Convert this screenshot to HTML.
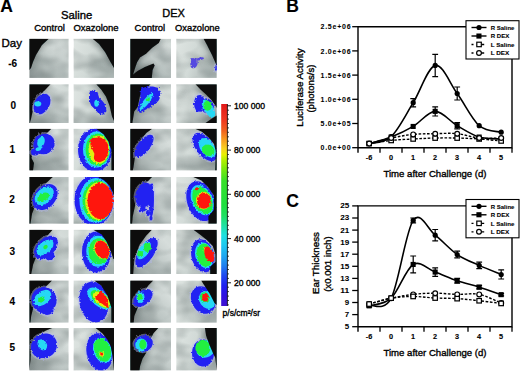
<!DOCTYPE html>
<html><head><meta charset="utf-8"><style>
html,body{margin:0;padding:0;background:#fff;}
svg{display:block;}
text{font-family:"Liberation Sans", sans-serif;fill:#000;stroke:#000;stroke-width:0.35px;}
text[font-weight="bold"]{stroke-width:0.12px;}
</style></head><body>
<svg width="520" height="371" viewBox="0 0 520 371">
<rect width="520" height="371" fill="#fff"/>
<text x="0.2" y="12.4" font-size="17.5" font-weight="bold">A</text>
<text x="61" y="18.5" font-size="11.3">Saline</text>
<text x="162.3" y="17.0" font-size="11.0">DEX</text>
<text x="34.2" y="31.3" font-size="9.5">Control</text>
<text x="73.4" y="31.2" font-size="9.5" textLength="45.2" lengthAdjust="spacingAndGlyphs">Oxazolone</text>
<text x="134.6" y="31.0" font-size="9.5">Control</text>
<text x="175.1" y="31.0" font-size="9.5" textLength="44.6" lengthAdjust="spacingAndGlyphs">Oxazolone</text>
<text x="1.5" y="46.8" font-size="11.5">Day</text>
<text x="12.6" y="66.9" text-anchor="middle" font-size="10" font-weight="bold">-6</text>
<text x="13.2" y="108.6" text-anchor="middle" font-size="10" font-weight="bold">0</text>
<text x="12.3" y="153.2" text-anchor="middle" font-size="10" font-weight="bold">1</text>
<text x="12.1" y="203.2" text-anchor="middle" font-size="10" font-weight="bold">2</text>
<text x="12.2" y="254.6" text-anchor="middle" font-size="10" font-weight="bold">3</text>
<text x="12.2" y="304.7" text-anchor="middle" font-size="10" font-weight="bold">4</text>
<text x="12.2" y="350.7" text-anchor="middle" font-size="10" font-weight="bold">5</text>
<defs>
<linearGradient id="grL" x1="0" y1="1" x2="1" y2="0"><stop offset="0" stop-color="#8e9897"/><stop offset="0.45" stop-color="#bec7c5"/><stop offset="0.8" stop-color="#d6dddb"/><stop offset="1" stop-color="#d0d8d5"/></linearGradient>
<linearGradient id="grR" x1="0" y1="0" x2="1" y2="0.3"><stop offset="0" stop-color="#dfe5e2"/><stop offset="0.5" stop-color="#d2dad7"/><stop offset="1" stop-color="#aeb8b6"/></linearGradient>
<linearGradient id="gr" x1="0" y1="0" x2="1" y2="1"><stop offset="0" stop-color="#bcc6c5"/><stop offset="0.5" stop-color="#d6dedb"/><stop offset="1" stop-color="#c4cecb"/></linearGradient>
<filter id="soft" x="-10%" y="-10%" width="120%" height="120%"><feGaussianBlur stdDeviation="0.6"/></filter>
<filter id="shade" x="-30%" y="-30%" width="160%" height="160%"><feGaussianBlur stdDeviation="3"/></filter>
<filter id="rag" x="-30%" y="-30%" width="160%" height="160%"><feTurbulence type="fractalNoise" baseFrequency="0.55" numOctaves="1" seed="7" result="n"/><feDisplacementMap in="SourceGraphic" in2="n" scale="3.2" xChannelSelector="R" yChannelSelector="G"/><feGaussianBlur stdDeviation="0.45"/></filter>
<filter id="tex" x="0" y="0" width="100%" height="100%"><feTurbulence type="fractalNoise" baseFrequency="0.045 0.07" numOctaves="2" seed="5"/><feColorMatrix type="matrix" values="0 0 0 0 0.1  0 0 0 0 0.13  0 0 0 0 0.13  1.6 0 0 0 -0.55"/></filter>
</defs>
<clipPath id="cp00"><rect x="29.3" y="38.8" width="39.4" height="39.1"/></clipPath>
<g clip-path="url(#cp00)">
<rect x="29.3" y="38.8" width="39.4" height="39.1" fill="url(#grL)"/>
<rect x="29.3" y="38.8" width="39.4" height="39.1" filter="url(#tex)" opacity="0.5"/>
<polygon points="29.3,38.8 48.8,38.8 42.0,45.0 36.0,55.0 33.0,62.0 31.0,68.0 29.3,70.0" fill="#1a2222" opacity="0.45" filter="url(#shade)"/>
<polygon points="29.3,38.8 48.8,38.8 42.0,45.0 36.0,55.0 33.0,62.0 31.0,68.0 29.3,70.0" fill="#080c0d" filter="url(#soft)"/>
</g>
<clipPath id="cp01"><rect x="73.5" y="38.8" width="40.5" height="39.1"/></clipPath>
<g clip-path="url(#cp01)">
<rect x="73.5" y="38.8" width="40.5" height="39.1" fill="url(#grR)"/>
<rect x="73.5" y="38.8" width="40.5" height="39.1" filter="url(#tex)" opacity="0.5"/>
<polygon points="92.6,38.8 114.0,38.8 114.0,67.9 110.5,62.0 105.0,52.0 99.0,44.0" fill="#1a2222" opacity="0.45" filter="url(#shade)"/>
<polygon points="92.6,38.8 114.0,38.8 114.0,67.9 110.5,62.0 105.0,52.0 99.0,44.0" fill="#080c0d" filter="url(#soft)"/>
</g>
<clipPath id="cp02"><rect x="130.2" y="38.8" width="40.8" height="39.1"/></clipPath>
<g clip-path="url(#cp02)">
<rect x="130.2" y="38.8" width="40.8" height="39.1" fill="url(#grL)"/>
<rect x="130.2" y="38.8" width="40.8" height="39.1" filter="url(#tex)" opacity="0.5"/>
<polygon points="130.2,38.8 160.8,38.8 158.8,43.1 152.2,47.8 146.1,53.7 140.0,57.6 137.1,62.3 135.1,68.1 133.1,74.4 137.5,70.9 144.9,67.0 153.5,63.4 154.7,65.4 152.6,70.1 151.8,77.9 130.2,77.9" fill="#1a2222" opacity="0.45" filter="url(#shade)"/>
<polygon points="130.2,38.8 160.8,38.8 158.8,43.1 152.2,47.8 146.1,53.7 140.0,57.6 137.1,62.3 135.1,68.1 133.1,74.4 137.5,70.9 144.9,67.0 153.5,63.4 154.7,65.4 152.6,70.1 151.8,77.9 130.2,77.9" fill="#080c0d" filter="url(#soft)"/>
</g>
<clipPath id="cp03"><rect x="176.2" y="38.8" width="40.6" height="39.1"/></clipPath>
<g clip-path="url(#cp03)">
<rect x="176.2" y="38.8" width="40.6" height="39.1" fill="url(#grR)"/>
<rect x="176.2" y="38.8" width="40.6" height="39.1" filter="url(#tex)" opacity="0.5"/>
<polygon points="203.6,38.8 216.8,38.8 216.8,66.0 212.0,55.0 207.0,45.0" fill="#1a2222" opacity="0.45" filter="url(#shade)"/>
<g filter="url(#rag)"><ellipse cx="216.5" cy="68.0" rx="2.8" ry="5.1" transform="rotate(0 216.5 68.0)" fill="#b4b8f2" opacity="0.45"/><ellipse cx="194.0" cy="63.5" rx="3.5" ry="5.0" transform="rotate(20 194.0 63.5)" fill="#5548e0"/><ellipse cx="199.5" cy="58.8" rx="4.5" ry="1.4" transform="rotate(-10 199.5 58.8)" fill="#5548e0"/><ellipse cx="193.0" cy="60.0" rx="2.0" ry="2.0" transform="rotate(0 193.0 60.0)" fill="#5548e0"/><ellipse cx="216.5" cy="68.0" rx="1.2" ry="3.5" transform="rotate(0 216.5 68.0)" fill="#2424f2"/></g>
<polygon points="203.6,38.8 216.8,38.8 216.8,66.0 212.0,55.0 207.0,45.0" fill="#080c0d" filter="url(#soft)"/>
</g>
<clipPath id="cp10"><rect x="29.3" y="84.2" width="39.4" height="38.8"/></clipPath>
<g clip-path="url(#cp10)">
<rect x="29.3" y="84.2" width="39.4" height="38.8" fill="url(#grL)"/>
<rect x="29.3" y="84.2" width="39.4" height="38.8" filter="url(#tex)" opacity="0.5"/>
<polygon points="29.3,84.2 50.5,84.2 45.0,90.0 38.0,97.0 33.0,105.0 32.5,112.0 31.0,119.0 29.8,123.0 29.3,123.0" fill="#1a2222" opacity="0.45" filter="url(#shade)"/>
<polygon points="29.3,84.2 50.5,84.2 45.0,90.0 38.0,97.0 33.0,105.0 32.5,112.0 31.0,119.0 29.8,123.0 29.3,123.0" fill="#080c0d" filter="url(#soft)"/>
<g filter="url(#rag)"><ellipse cx="42.0" cy="104.0" rx="9.1" ry="12.6" transform="rotate(30 42.0 104.0)" fill="#b4b8f2" opacity="0.45"/><ellipse cx="42.0" cy="104.0" rx="7.5" ry="11.0" transform="rotate(30 42.0 104.0)" fill="#2424f2"/><ellipse cx="37.8" cy="103.8" rx="3.5" ry="2.6" transform="rotate(0 37.8 103.8)" fill="#28d8f4"/></g>
</g>
<clipPath id="cp11"><rect x="73.5" y="84.2" width="40.5" height="38.8"/></clipPath>
<g clip-path="url(#cp11)">
<rect x="73.5" y="84.2" width="40.5" height="38.8" fill="url(#grR)"/>
<rect x="73.5" y="84.2" width="40.5" height="38.8" filter="url(#tex)" opacity="0.5"/>
<polygon points="96.3,84.2 114.0,84.2 114.0,121.0 112.0,116.6 109.5,105.5 105.9,96.6 101.5,90.0" fill="#1a2222" opacity="0.45" filter="url(#shade)"/>
<g filter="url(#rag)"><polygon points="90.1,90.9 94.1,89.8 97.5,92.0 99.1,97.7 102.5,101.1 105.9,105.6 106.5,111.3 103.1,114.7 98.6,113.5 94.6,109.0 91.2,105.6 89.0,99.9 89.0,94.3" fill="#2424f2"/><ellipse cx="96.5" cy="103.2" rx="2.2" ry="3.5" transform="rotate(0 96.5 103.2)" fill="#28d8f4"/></g>
<polygon points="96.3,84.2 114.0,84.2 114.0,121.0 112.0,116.6 109.5,105.5 105.9,96.6 101.5,90.0" fill="#080c0d" filter="url(#soft)"/>
</g>
<clipPath id="cp12"><rect x="130.2" y="84.2" width="40.8" height="38.8"/></clipPath>
<g clip-path="url(#cp12)">
<rect x="130.2" y="84.2" width="40.8" height="38.8" fill="url(#grL)"/>
<rect x="130.2" y="84.2" width="40.8" height="38.8" filter="url(#tex)" opacity="0.5"/>
<polygon points="130.2,84.2 150.6,84.2 145.0,90.0 140.0,96.0 137.7,107.0 134.2,111.6 132.7,121.0 132.4,123.0 130.2,123.0" fill="#1a2222" opacity="0.45" filter="url(#shade)"/>
<polygon points="130.2,84.2 150.6,84.2 145.0,90.0 140.0,96.0 137.7,107.0 134.2,111.6 132.7,121.0 132.4,123.0 130.2,123.0" fill="#080c0d" filter="url(#soft)"/>
<g filter="url(#rag)"><polygon points="141.0,88.5 147.0,86.5 153.0,86.5 158.5,88.0 160.5,94.0 159.0,100.0 155.0,104.5 150.0,107.5 145.0,110.0 141.0,113.0 137.5,111.5 138.0,106.0 140.0,99.0 140.5,93.0" fill="#2424f2"/><ellipse cx="146.4" cy="101.5" rx="10.5" ry="2.8" transform="rotate(-52 146.4 101.5)" fill="#28d8f4"/><ellipse cx="147.8" cy="99.4" rx="2.0" ry="2.0" transform="rotate(0 147.8 99.4)" fill="#20f040"/></g>
</g>
<clipPath id="cp13"><rect x="176.2" y="84.2" width="40.6" height="38.8"/></clipPath>
<g clip-path="url(#cp13)">
<rect x="176.2" y="84.2" width="40.6" height="38.8" fill="url(#grR)"/>
<rect x="176.2" y="84.2" width="40.6" height="38.8" filter="url(#tex)" opacity="0.5"/>
<polygon points="195.5,84.2 216.8,84.2 216.8,108.0 215.0,105.0 211.0,99.5 206.0,94.5 200.5,89.5" fill="#1a2222" opacity="0.45" filter="url(#shade)"/>
<polygon points="205.5,123.0 216.8,123.0 216.8,115.5 212.0,118.5" fill="#1a2222" opacity="0.45" filter="url(#shade)"/>
<g filter="url(#rag)"><ellipse cx="199.5" cy="103.4" rx="7.1" ry="10.1" transform="rotate(0 199.5 103.4)" fill="#b4b8f2" opacity="0.45"/><ellipse cx="207.0" cy="106.0" rx="9.6" ry="8.1" transform="rotate(60 207.0 106.0)" fill="#b4b8f2" opacity="0.45"/><ellipse cx="199.5" cy="103.4" rx="5.5" ry="8.5" transform="rotate(0 199.5 103.4)" fill="#2424f2"/><ellipse cx="207.0" cy="106.0" rx="8.0" ry="6.5" transform="rotate(60 207.0 106.0)" fill="#2424f2"/><ellipse cx="208.5" cy="108.5" rx="10.0" ry="4.8" transform="rotate(58 208.5 108.5)" fill="#28d8f4"/><ellipse cx="207.6" cy="105.8" rx="4.2" ry="5.0" transform="rotate(0 207.6 105.8)" fill="#20f040"/></g>
<polygon points="195.5,84.2 216.8,84.2 216.8,108.0 215.0,105.0 211.0,99.5 206.0,94.5 200.5,89.5" fill="#080c0d" filter="url(#soft)"/>
<polygon points="205.5,123.0 216.8,123.0 216.8,115.5 212.0,118.5" fill="#080c0d" filter="url(#soft)"/>
</g>
<clipPath id="cp20"><rect x="29.3" y="128.8" width="39.4" height="41.8"/></clipPath>
<g clip-path="url(#cp20)">
<rect x="29.3" y="128.8" width="39.4" height="41.8" fill="url(#grL)"/>
<rect x="29.3" y="128.8" width="39.4" height="41.8" filter="url(#tex)" opacity="0.5"/>
<polygon points="29.3,128.8 51.3,128.8 45.0,135.0 38.0,142.0 33.0,151.0 31.5,158.0 34.0,163.0 33.0,170.6 29.3,170.6" fill="#1a2222" opacity="0.45" filter="url(#shade)"/>
<polygon points="29.3,128.8 51.3,128.8 45.0,135.0 38.0,142.0 33.0,151.0 31.5,158.0 34.0,163.0 33.0,170.6 29.3,170.6" fill="#080c0d" filter="url(#soft)"/>
<g filter="url(#rag)"><ellipse cx="44.0" cy="144.0" rx="12.6" ry="11.6" transform="rotate(-30 44.0 144.0)" fill="#b4b8f2" opacity="0.45"/><ellipse cx="35.0" cy="152.0" rx="5.6" ry="5.1" transform="rotate(0 35.0 152.0)" fill="#b4b8f2" opacity="0.45"/><ellipse cx="44.0" cy="144.0" rx="11.0" ry="10.0" transform="rotate(-30 44.0 144.0)" fill="#2424f2"/><ellipse cx="35.0" cy="152.0" rx="4.0" ry="3.5" transform="rotate(0 35.0 152.0)" fill="#2424f2"/><ellipse cx="41.0" cy="142.0" rx="3.5" ry="5.5" transform="rotate(20 41.0 142.0)" fill="#28d8f4"/><ellipse cx="38.5" cy="149.0" rx="3.0" ry="1.8" transform="rotate(-20 38.5 149.0)" fill="#28d8f4"/></g>
</g>
<clipPath id="cp21"><rect x="73.5" y="128.8" width="40.5" height="41.8"/></clipPath>
<g clip-path="url(#cp21)">
<rect x="73.5" y="128.8" width="40.5" height="41.8" fill="url(#grR)"/>
<rect x="73.5" y="128.8" width="40.5" height="41.8" filter="url(#tex)" opacity="0.5"/>
<polygon points="96.2,128.8 114.0,128.8 114.0,170.6 111.4,170.6 111.4,150.0 108.4,141.4 103.5,134.3" fill="#1a2222" opacity="0.45" filter="url(#shade)"/>
<g filter="url(#rag)"><ellipse cx="95.0" cy="150.0" rx="18.6" ry="23.1" transform="rotate(0 95.0 150.0)" fill="#b4b8f2" opacity="0.45"/><ellipse cx="95.0" cy="150.0" rx="17.0" ry="21.5" transform="rotate(0 95.0 150.0)" fill="#2424f2"/><ellipse cx="96.6" cy="149.5" rx="13.6" ry="18.0" transform="rotate(0 96.6 149.5)" fill="#28d8f4"/><ellipse cx="97.6" cy="149.6" rx="12.0" ry="16.0" transform="rotate(0 97.6 149.6)" fill="#20f040"/><ellipse cx="98.8" cy="149.6" rx="10.3" ry="14.2" transform="rotate(0 98.8 149.6)" fill="#e0f010"/><polygon points="90.2,139.7 93.2,137.9 99.9,137.3 104.7,139.1 107.8,144.0 108.4,151.2 107.2,156.1 104.1,160.3 99.9,162.2 95.6,161.5 93.8,158.5 94.4,153.7 92.6,150.0 90.8,146.4 90.2,142.8" fill="#ff1810"/></g>
<polygon points="96.2,128.8 114.0,128.8 114.0,170.6 111.4,170.6 111.4,150.0 108.4,141.4 103.5,134.3" fill="#080c0d" filter="url(#soft)"/>
</g>
<clipPath id="cp22"><rect x="130.2" y="128.8" width="40.8" height="41.8"/></clipPath>
<g clip-path="url(#cp22)">
<rect x="130.2" y="128.8" width="40.8" height="41.8" fill="url(#grL)"/>
<rect x="130.2" y="128.8" width="40.8" height="41.8" filter="url(#tex)" opacity="0.5"/>
<polygon points="130.2,128.8 152.2,128.8 146.2,133.1 140.1,141.6 136.5,151.2 134.7,158.5 133.5,167.0 132.8,170.6 130.2,170.6" fill="#1a2222" opacity="0.45" filter="url(#shade)"/>
<polygon points="130.2,128.8 152.2,128.8 146.2,133.1 140.1,141.6 136.5,151.2 134.7,158.5 133.5,167.0 132.8,170.6 130.2,170.6" fill="#080c0d" filter="url(#soft)"/>
<g filter="url(#rag)"><ellipse cx="144.0" cy="146.0" rx="15.1" ry="7.6" transform="rotate(-52 144.0 146.0)" fill="#b4b8f2" opacity="0.45"/><ellipse cx="144.0" cy="146.0" rx="13.5" ry="6.0" transform="rotate(-52 144.0 146.0)" fill="#2424f2"/></g>
</g>
<clipPath id="cp23"><rect x="176.2" y="128.8" width="40.6" height="41.8"/></clipPath>
<g clip-path="url(#cp23)">
<rect x="176.2" y="128.8" width="40.6" height="41.8" fill="url(#grR)"/>
<rect x="176.2" y="128.8" width="40.6" height="41.8" filter="url(#tex)" opacity="0.5"/>
<polygon points="195.2,128.8 216.8,128.8 216.8,170.6 215.2,170.6 215.8,151.2 214.0,144.0 209.2,137.9 201.9,131.8" fill="#1a2222" opacity="0.45" filter="url(#shade)"/>
<g filter="url(#rag)"><ellipse cx="204.9" cy="147.0" rx="18.1" ry="10.6" transform="rotate(52 204.9 147.0)" fill="#b4b8f2" opacity="0.45"/><ellipse cx="204.9" cy="147.0" rx="16.5" ry="9.0" transform="rotate(52 204.9 147.0)" fill="#2424f2"/><ellipse cx="207.5" cy="147.6" rx="11.0" ry="7.0" transform="rotate(52 207.5 147.6)" fill="#28d8f4"/><ellipse cx="208.2" cy="150.3" rx="6.5" ry="5.5" transform="rotate(30 208.2 150.3)" fill="#20f040"/></g>
<polygon points="195.2,128.8 216.8,128.8 216.8,170.6 215.2,170.6 215.8,151.2 214.0,144.0 209.2,137.9 201.9,131.8" fill="#080c0d" filter="url(#soft)"/>
</g>
<clipPath id="cp30"><rect x="29.3" y="177.0" width="39.4" height="46.8"/></clipPath>
<g clip-path="url(#cp30)">
<rect x="29.3" y="177.0" width="39.4" height="46.8" fill="url(#grL)"/>
<rect x="29.3" y="177.0" width="39.4" height="46.8" filter="url(#tex)" opacity="0.5"/>
<polygon points="29.3,177.0 52.8,177.0 47.3,181.9 40.0,190.0 36.0,200.0 34.9,206.6 32.1,213.5 30.8,221.8 30.5,223.8 29.3,223.8" fill="#1a2222" opacity="0.45" filter="url(#shade)"/>
<polygon points="29.3,177.0 52.8,177.0 47.3,181.9 40.0,190.0 36.0,200.0 34.9,206.6 32.1,213.5 30.8,221.8 30.5,223.8 29.3,223.8" fill="#080c0d" filter="url(#soft)"/>
<g filter="url(#rag)"><ellipse cx="45.2" cy="197.0" rx="16.2" ry="12.1" transform="rotate(-49 45.2 197.0)" fill="#b4b8f2" opacity="0.45"/><ellipse cx="45.2" cy="197.0" rx="14.6" ry="10.5" transform="rotate(-49 45.2 197.0)" fill="#2424f2"/><ellipse cx="44.3" cy="195.8" rx="11.0" ry="7.5" transform="rotate(-42 44.3 195.8)" fill="#28d8f4"/><ellipse cx="43.3" cy="197.2" rx="6.5" ry="4.0" transform="rotate(-30 43.3 197.2)" fill="#20f040"/></g>
</g>
<clipPath id="cp31"><rect x="73.5" y="177.0" width="40.5" height="46.8"/></clipPath>
<g clip-path="url(#cp31)">
<rect x="73.5" y="177.0" width="40.5" height="46.8" fill="url(#grR)"/>
<rect x="73.5" y="177.0" width="40.5" height="46.8" filter="url(#tex)" opacity="0.5"/>
<polygon points="98.0,177.0 114.0,177.0 114.0,196.0 112.6,192.0 109.5,185.5 104.0,180.0" fill="#1a2222" opacity="0.45" filter="url(#shade)"/>
<g filter="url(#rag)"><ellipse cx="94.0" cy="200.4" rx="21.1" ry="26.6" transform="rotate(0 94.0 200.4)" fill="#b4b8f2" opacity="0.45"/><ellipse cx="94.0" cy="200.4" rx="19.5" ry="25.0" transform="rotate(0 94.0 200.4)" fill="#2424f2"/><ellipse cx="96.0" cy="200.5" rx="16.5" ry="22.5" transform="rotate(0 96.0 200.5)" fill="#28d8f4"/><ellipse cx="97.5" cy="200.8" rx="15.0" ry="20.5" transform="rotate(0 97.5 200.8)" fill="#20f040"/><ellipse cx="99.0" cy="201.0" rx="13.8" ry="19.0" transform="rotate(0 99.0 201.0)" fill="#e0f010"/><ellipse cx="100.3" cy="201.0" rx="12.8" ry="18.0" transform="rotate(0 100.3 201.0)" fill="#ff1810"/></g>
<polygon points="98.0,177.0 114.0,177.0 114.0,196.0 112.6,192.0 109.5,185.5 104.0,180.0" fill="#080c0d" filter="url(#soft)"/>
</g>
<clipPath id="cp32"><rect x="130.2" y="177.0" width="40.8" height="46.8"/></clipPath>
<g clip-path="url(#cp32)">
<rect x="130.2" y="177.0" width="40.8" height="46.8" fill="url(#grL)"/>
<rect x="130.2" y="177.0" width="40.8" height="46.8" filter="url(#tex)" opacity="0.5"/>
<polygon points="130.2,177.0 152.1,177.0 144.5,184.6 137.6,195.6 134.9,206.6 132.8,216.3 132.1,223.8 130.2,223.8" fill="#1a2222" opacity="0.45" filter="url(#shade)"/>
<polygon points="130.2,177.0 152.1,177.0 144.5,184.6 137.6,195.6 134.9,206.6 132.8,216.3 132.1,223.8 130.2,223.8" fill="#080c0d" filter="url(#soft)"/>
<g filter="url(#rag)"><ellipse cx="144.5" cy="195.0" rx="10.6" ry="14.1" transform="rotate(15 144.5 195.0)" fill="#b4b8f2" opacity="0.45"/><ellipse cx="151.3" cy="200.0" rx="4.3" ry="18.1" transform="rotate(0 151.3 200.0)" fill="#b4b8f2" opacity="0.45"/><ellipse cx="143.0" cy="209.0" rx="4.6" ry="4.1" transform="rotate(0 143.0 209.0)" fill="#b4b8f2" opacity="0.45"/><ellipse cx="148.0" cy="213.0" rx="3.6" ry="4.6" transform="rotate(0 148.0 213.0)" fill="#b4b8f2" opacity="0.45"/><ellipse cx="151.0" cy="218.0" rx="3.1" ry="4.1" transform="rotate(0 151.0 218.0)" fill="#b4b8f2" opacity="0.45"/><ellipse cx="140.0" cy="211.0" rx="2.8" ry="2.8" transform="rotate(0 140.0 211.0)" fill="#b4b8f2" opacity="0.45"/><ellipse cx="144.5" cy="195.0" rx="9.0" ry="12.5" transform="rotate(15 144.5 195.0)" fill="#2424f2"/><ellipse cx="151.3" cy="200.0" rx="2.7" ry="16.5" transform="rotate(0 151.3 200.0)" fill="#2424f2"/><ellipse cx="143.0" cy="209.0" rx="3.0" ry="2.5" transform="rotate(0 143.0 209.0)" fill="#2424f2"/><ellipse cx="148.0" cy="213.0" rx="2.0" ry="3.0" transform="rotate(0 148.0 213.0)" fill="#2424f2"/><ellipse cx="151.0" cy="218.0" rx="1.5" ry="2.5" transform="rotate(0 151.0 218.0)" fill="#2424f2"/><ellipse cx="140.0" cy="211.0" rx="1.2" ry="1.2" transform="rotate(0 140.0 211.0)" fill="#2424f2"/></g>
</g>
<clipPath id="cp33"><rect x="176.2" y="177.0" width="40.6" height="46.8"/></clipPath>
<g clip-path="url(#cp33)">
<rect x="176.2" y="177.0" width="40.6" height="46.8" fill="url(#grR)"/>
<rect x="176.2" y="177.0" width="40.6" height="46.8" filter="url(#tex)" opacity="0.5"/>
<polygon points="193.3,177.0 216.8,177.0 216.8,223.8 208.4,223.8 208.4,216.3 213.9,210.0 213.9,195.6 208.4,187.4 201.5,180.5" fill="#1a2222" opacity="0.45" filter="url(#shade)"/>
<g filter="url(#rag)"><ellipse cx="200.9" cy="201.2" rx="15.3" ry="22.2" transform="rotate(-20 200.9 201.2)" fill="#b4b8f2" opacity="0.45"/><ellipse cx="200.9" cy="201.2" rx="13.7" ry="20.6" transform="rotate(-20 200.9 201.2)" fill="#2424f2"/><ellipse cx="202.2" cy="200.1" rx="10.3" ry="16.0" transform="rotate(-25 202.2 200.1)" fill="#28d8f4"/><ellipse cx="202.5" cy="200.3" rx="9.2" ry="14.2" transform="rotate(-25 202.5 200.3)" fill="#20f040"/><ellipse cx="203.5" cy="200.5" rx="7.5" ry="9.0" transform="rotate(0 203.5 200.5)" fill="#e0f010"/><ellipse cx="203.9" cy="200.8" rx="7.0" ry="8.0" transform="rotate(0 203.9 200.8)" fill="#ff1810"/><ellipse cx="196.7" cy="188.8" rx="1.5" ry="1.5" transform="rotate(0 196.7 188.8)" fill="#ff1810"/></g>
<polygon points="193.3,177.0 216.8,177.0 216.8,223.8 208.4,223.8 208.4,216.3 213.9,210.0 213.9,195.6 208.4,187.4 201.5,180.5" fill="#080c0d" filter="url(#soft)"/>
</g>
<clipPath id="cp40"><rect x="29.3" y="229.8" width="39.4" height="44.2"/></clipPath>
<g clip-path="url(#cp40)">
<rect x="29.3" y="229.8" width="39.4" height="44.2" fill="url(#grL)"/>
<rect x="29.3" y="229.8" width="39.4" height="44.2" filter="url(#tex)" opacity="0.5"/>
<polygon points="29.3,229.8 52.6,229.8 47.4,235.8 40.0,246.0 35.8,257.8 33.2,264.2 31.2,273.9 29.3,274.0" fill="#1a2222" opacity="0.45" filter="url(#shade)"/>
<polygon points="29.3,229.8 52.6,229.8 47.4,235.8 40.0,246.0 35.8,257.8 33.2,264.2 31.2,273.9 29.3,274.0" fill="#080c0d" filter="url(#soft)"/>
<g filter="url(#rag)"><ellipse cx="46.0" cy="247.5" rx="15.6" ry="10.4" transform="rotate(-45 46.0 247.5)" fill="#b4b8f2" opacity="0.45"/><ellipse cx="49.5" cy="255.5" rx="6.6" ry="6.6" transform="rotate(0 49.5 255.5)" fill="#b4b8f2" opacity="0.45"/><ellipse cx="46.0" cy="247.5" rx="14.0" ry="8.8" transform="rotate(-45 46.0 247.5)" fill="#2424f2"/><ellipse cx="49.5" cy="255.5" rx="5.0" ry="5.0" transform="rotate(0 49.5 255.5)" fill="#2424f2"/><ellipse cx="45.0" cy="247.5" rx="10.0" ry="6.0" transform="rotate(-40 45.0 247.5)" fill="#28d8f4"/><ellipse cx="45.5" cy="247.0" rx="2.5" ry="1.8" transform="rotate(-40 45.5 247.0)" fill="#20f040"/></g>
</g>
<clipPath id="cp41"><rect x="73.5" y="229.8" width="40.5" height="44.2"/></clipPath>
<g clip-path="url(#cp41)">
<rect x="73.5" y="229.8" width="40.5" height="44.2" fill="url(#grR)"/>
<rect x="73.5" y="229.8" width="40.5" height="44.2" filter="url(#tex)" opacity="0.5"/>
<polygon points="93.3,229.8 114.0,229.8 114.0,259.0 113.4,259.0 110.8,251.3 106.9,242.2 101.8,234.5" fill="#1a2222" opacity="0.45" filter="url(#shade)"/>
<g filter="url(#rag)"><ellipse cx="96.5" cy="252.0" rx="16.1" ry="22.3" transform="rotate(0 96.5 252.0)" fill="#b4b8f2" opacity="0.45"/><ellipse cx="96.5" cy="252.0" rx="14.5" ry="20.7" transform="rotate(0 96.5 252.0)" fill="#2424f2"/><ellipse cx="97.9" cy="251.3" rx="11.6" ry="15.5" transform="rotate(0 97.9 251.3)" fill="#28d8f4"/><ellipse cx="99.0" cy="251.2" rx="10.4" ry="13.0" transform="rotate(0 99.0 251.2)" fill="#20f040"/><ellipse cx="102.0" cy="249.6" rx="7.5" ry="10.0" transform="rotate(-25 102.0 249.6)" fill="#e0f010"/><ellipse cx="102.1" cy="249.7" rx="6.8" ry="9.5" transform="rotate(-25 102.1 249.7)" fill="#ff1810"/></g>
<polygon points="93.3,229.8 114.0,229.8 114.0,259.0 113.4,259.0 110.8,251.3 106.9,242.2 101.8,234.5" fill="#080c0d" filter="url(#soft)"/>
</g>
<clipPath id="cp42"><rect x="130.2" y="229.8" width="40.8" height="44.2"/></clipPath>
<g clip-path="url(#cp42)">
<rect x="130.2" y="229.8" width="40.8" height="44.2" fill="url(#grL)"/>
<rect x="130.2" y="229.8" width="40.8" height="44.2" filter="url(#tex)" opacity="0.5"/>
<polygon points="130.2,229.8 151.9,229.8 146.1,235.8 139.6,244.8 135.8,255.2 133.8,265.5 133.2,273.9 130.2,274.0" fill="#1a2222" opacity="0.45" filter="url(#shade)"/>
<polygon points="130.2,229.8 151.9,229.8 146.1,235.8 139.6,244.8 135.8,255.2 133.8,265.5 133.2,273.9 130.2,274.0" fill="#080c0d" filter="url(#soft)"/>
<g filter="url(#rag)"><ellipse cx="146.5" cy="252.5" rx="18.6" ry="9.1" transform="rotate(-57 146.5 252.5)" fill="#b4b8f2" opacity="0.45"/><ellipse cx="146.5" cy="252.5" rx="17.0" ry="7.5" transform="rotate(-57 146.5 252.5)" fill="#2424f2"/><ellipse cx="144.0" cy="250.5" rx="10.0" ry="5.0" transform="rotate(-57 144.0 250.5)" fill="#28d8f4"/><ellipse cx="147.4" cy="247.4" rx="3.5" ry="4.5" transform="rotate(0 147.4 247.4)" fill="#20f040"/><ellipse cx="140.3" cy="253.9" rx="3.0" ry="3.0" transform="rotate(0 140.3 253.9)" fill="#20f040"/></g>
</g>
<clipPath id="cp43"><rect x="176.2" y="229.8" width="40.6" height="44.2"/></clipPath>
<g clip-path="url(#cp43)">
<rect x="176.2" y="229.8" width="40.6" height="44.2" fill="url(#grR)"/>
<rect x="176.2" y="229.8" width="40.6" height="44.2" filter="url(#tex)" opacity="0.5"/>
<polygon points="193.4,229.8 216.8,229.8 216.8,274.0 210.2,274.0 210.2,266.8 215.4,262.0 215.4,253.9 212.8,246.1 206.3,239.6 199.9,234.5" fill="#1a2222" opacity="0.45" filter="url(#shade)"/>
<g filter="url(#rag)"><ellipse cx="202.8" cy="255.8" rx="12.9" ry="18.4" transform="rotate(-15 202.8 255.8)" fill="#b4b8f2" opacity="0.45"/><ellipse cx="202.8" cy="255.8" rx="11.3" ry="16.8" transform="rotate(-15 202.8 255.8)" fill="#2424f2"/><ellipse cx="204.4" cy="255.2" rx="9.1" ry="13.0" transform="rotate(-15 204.4 255.2)" fill="#28d8f4"/><ellipse cx="204.7" cy="255.2" rx="8.0" ry="11.7" transform="rotate(-10 204.7 255.2)" fill="#20f040"/><ellipse cx="205.5" cy="250.0" rx="1.8" ry="3.0" transform="rotate(0 205.5 250.0)" fill="#e0f010"/><ellipse cx="209.2" cy="254.5" rx="4.3" ry="8.4" transform="rotate(-20 209.2 254.5)" fill="#ff1810"/></g>
<polygon points="193.4,229.8 216.8,229.8 216.8,274.0 210.2,274.0 210.2,266.8 215.4,262.0 215.4,253.9 212.8,246.1 206.3,239.6 199.9,234.5" fill="#080c0d" filter="url(#soft)"/>
</g>
<clipPath id="cp50"><rect x="29.3" y="280.4" width="39.4" height="42.4"/></clipPath>
<g clip-path="url(#cp50)">
<rect x="29.3" y="280.4" width="39.4" height="42.4" fill="url(#grL)"/>
<rect x="29.3" y="280.4" width="39.4" height="42.4" filter="url(#tex)" opacity="0.5"/>
<polygon points="29.3,280.4 52.1,280.4 47.0,285.6 40.0,293.0 33.1,308.4 31.2,316.0 30.5,322.4 29.3,322.8" fill="#1a2222" opacity="0.45" filter="url(#shade)"/>
<polygon points="29.3,280.4 52.1,280.4 47.0,285.6 40.0,293.0 33.1,308.4 31.2,316.0 30.5,322.4 29.3,322.8" fill="#080c0d" filter="url(#soft)"/>
<g filter="url(#rag)"><ellipse cx="44.0" cy="300.0" rx="14.1" ry="14.6" transform="rotate(-30 44.0 300.0)" fill="#b4b8f2" opacity="0.45"/><ellipse cx="47.0" cy="310.0" rx="8.1" ry="6.6" transform="rotate(0 47.0 310.0)" fill="#b4b8f2" opacity="0.45"/><ellipse cx="44.0" cy="300.0" rx="12.5" ry="13.0" transform="rotate(-30 44.0 300.0)" fill="#2424f2"/><ellipse cx="47.0" cy="310.0" rx="6.5" ry="5.0" transform="rotate(0 47.0 310.0)" fill="#2424f2"/><ellipse cx="42.5" cy="298.0" rx="10.0" ry="6.5" transform="rotate(-40 42.5 298.0)" fill="#28d8f4"/><ellipse cx="41.5" cy="299.5" rx="3.5" ry="2.5" transform="rotate(-30 41.5 299.5)" fill="#20f040"/></g>
</g>
<clipPath id="cp51"><rect x="73.5" y="280.4" width="40.5" height="42.4"/></clipPath>
<g clip-path="url(#cp51)">
<rect x="73.5" y="280.4" width="40.5" height="42.4" fill="url(#grR)"/>
<rect x="73.5" y="280.4" width="40.5" height="42.4" filter="url(#tex)" opacity="0.5"/>
<polygon points="94.2,280.4 114.0,280.4 114.0,322.8 111.3,322.8 111.3,307.2 107.5,295.7 101.2,285.6" fill="#1a2222" opacity="0.45" filter="url(#shade)"/>
<g filter="url(#rag)"><ellipse cx="94.0" cy="302.0" rx="16.1" ry="22.2" transform="rotate(-10 94.0 302.0)" fill="#b4b8f2" opacity="0.45"/><ellipse cx="94.0" cy="302.0" rx="14.5" ry="20.6" transform="rotate(-10 94.0 302.0)" fill="#2424f2"/><ellipse cx="99.5" cy="298.5" rx="14.5" ry="7.5" transform="rotate(40 99.5 298.5)" fill="#28d8f4"/><ellipse cx="100.8" cy="299.0" rx="12.0" ry="6.3" transform="rotate(40 100.8 299.0)" fill="#20f040"/><ellipse cx="101.5" cy="299.5" rx="10.3" ry="5.6" transform="rotate(42 101.5 299.5)" fill="#e0f010"/><polygon points="100.5,290.4 94.8,298.5 101.0,303.0 108.8,308.8 107.0,298.0" fill="#ff1810"/></g>
<polygon points="94.2,280.4 114.0,280.4 114.0,322.8 111.3,322.8 111.3,307.2 107.5,295.7 101.2,285.6" fill="#080c0d" filter="url(#soft)"/>
</g>
<clipPath id="cp52"><rect x="130.2" y="280.4" width="40.8" height="42.4"/></clipPath>
<g clip-path="url(#cp52)">
<rect x="130.2" y="280.4" width="40.8" height="42.4" fill="url(#grL)"/>
<rect x="130.2" y="280.4" width="40.8" height="42.4" filter="url(#tex)" opacity="0.5"/>
<polygon points="130.2,280.4 153.3,280.4 148.3,285.6 142.0,295.0 136.9,309.7 134.3,316.0 133.7,322.4 130.2,322.8" fill="#1a2222" opacity="0.45" filter="url(#shade)"/>
<polygon points="130.2,280.4 153.3,280.4 148.3,285.6 142.0,295.0 136.9,309.7 134.3,316.0 133.7,322.4 130.2,322.8" fill="#080c0d" filter="url(#soft)"/>
<g filter="url(#rag)"><ellipse cx="143.0" cy="298.0" rx="12.6" ry="8.6" transform="rotate(-40 143.0 298.0)" fill="#b4b8f2" opacity="0.45"/><ellipse cx="143.0" cy="298.0" rx="11.0" ry="7.0" transform="rotate(-40 143.0 298.0)" fill="#2424f2"/><ellipse cx="140.5" cy="297.5" rx="4.0" ry="5.5" transform="rotate(0 140.5 297.5)" fill="#28d8f4"/><ellipse cx="140.0" cy="297.0" rx="2.5" ry="3.0" transform="rotate(0 140.0 297.0)" fill="#20f040"/></g>
</g>
<clipPath id="cp53"><rect x="176.2" y="280.4" width="40.6" height="42.4"/></clipPath>
<g clip-path="url(#cp53)">
<rect x="176.2" y="280.4" width="40.6" height="42.4" fill="url(#grR)"/>
<rect x="176.2" y="280.4" width="40.6" height="42.4" filter="url(#tex)" opacity="0.5"/>
<polygon points="201.2,280.4 216.8,280.4 216.8,305.0 214.6,303.3 209.5,293.2 204.4,285.6" fill="#1a2222" opacity="0.45" filter="url(#shade)"/>
<g filter="url(#rag)"><ellipse cx="203.2" cy="300.0" rx="13.1" ry="16.1" transform="rotate(-30 203.2 300.0)" fill="#b4b8f2" opacity="0.45"/><ellipse cx="203.2" cy="300.0" rx="11.5" ry="14.5" transform="rotate(-30 203.2 300.0)" fill="#2424f2"/><ellipse cx="207.0" cy="300.0" rx="7.5" ry="9.5" transform="rotate(-35 207.0 300.0)" fill="#28d8f4"/><ellipse cx="205.0" cy="297.5" rx="4.5" ry="5.5" transform="rotate(-30 205.0 297.5)" fill="#20f040"/><ellipse cx="205.3" cy="297.3" rx="3.0" ry="4.3" transform="rotate(0 205.3 297.3)" fill="#ff1810"/></g>
<polygon points="201.2,280.4 216.8,280.4 216.8,305.0 214.6,303.3 209.5,293.2 204.4,285.6" fill="#080c0d" filter="url(#soft)"/>
</g>
<clipPath id="cp60"><rect x="29.3" y="328.0" width="39.4" height="42.6"/></clipPath>
<g clip-path="url(#cp60)">
<rect x="29.3" y="328.0" width="39.4" height="42.6" fill="url(#grL)"/>
<rect x="29.3" y="328.0" width="39.4" height="42.6" filter="url(#tex)" opacity="0.5"/>
<polygon points="29.3,328.0 52.2,328.0 46.0,330.5 38.0,335.0 33.0,341.0 31.0,350.0 30.5,359.9 29.8,366.0 29.3,370.6" fill="#1a2222" opacity="0.45" filter="url(#shade)"/>
<polygon points="29.3,328.0 52.2,328.0 46.0,330.5 38.0,335.0 33.0,341.0 31.0,350.0 30.5,359.9 29.8,366.0 29.3,370.6" fill="#080c0d" filter="url(#soft)"/>
<g filter="url(#rag)"><ellipse cx="44.0" cy="346.0" rx="15.1" ry="13.6" transform="rotate(-35 44.0 346.0)" fill="#b4b8f2" opacity="0.45"/><ellipse cx="44.0" cy="346.0" rx="13.5" ry="12.0" transform="rotate(-35 44.0 346.0)" fill="#2424f2"/><ellipse cx="42.3" cy="344.8" rx="4.5" ry="5.8" transform="rotate(-30 42.3 344.8)" fill="#28d8f4"/></g>
</g>
<clipPath id="cp61"><rect x="73.5" y="328.0" width="40.5" height="42.6"/></clipPath>
<g clip-path="url(#cp61)">
<rect x="73.5" y="328.0" width="40.5" height="42.6" fill="url(#grR)"/>
<rect x="73.5" y="328.0" width="40.5" height="42.6" filter="url(#tex)" opacity="0.5"/>
<polygon points="95.6,328.0 114.0,328.0 114.0,370.6 112.6,356.3 110.8,346.6 107.2,339.3 102.3,333.3" fill="#1a2222" opacity="0.45" filter="url(#shade)"/>
<g filter="url(#rag)"><ellipse cx="99.5" cy="352.0" rx="14.6" ry="20.6" transform="rotate(-10 99.5 352.0)" fill="#b4b8f2" opacity="0.45"/><ellipse cx="99.5" cy="352.0" rx="13.0" ry="19.0" transform="rotate(-10 99.5 352.0)" fill="#2424f2"/><ellipse cx="102.5" cy="350.5" rx="9.0" ry="13.0" transform="rotate(-20 102.5 350.5)" fill="#28d8f4"/><ellipse cx="102.5" cy="350.0" rx="8.0" ry="12.0" transform="rotate(-20 102.5 350.0)" fill="#20f040"/><ellipse cx="101.7" cy="353.9" rx="2.5" ry="2.5" transform="rotate(0 101.7 353.9)" fill="#e0f010"/><ellipse cx="101.7" cy="353.9" rx="1.5" ry="1.5" transform="rotate(0 101.7 353.9)" fill="#ff1810"/></g>
<polygon points="95.6,328.0 114.0,328.0 114.0,370.6 112.6,356.3 110.8,346.6 107.2,339.3 102.3,333.3" fill="#080c0d" filter="url(#soft)"/>
</g>
<clipPath id="cp62"><rect x="130.2" y="328.0" width="40.8" height="42.6"/></clipPath>
<g clip-path="url(#cp62)">
<rect x="130.2" y="328.0" width="40.8" height="42.6" fill="url(#grL)"/>
<rect x="130.2" y="328.0" width="40.8" height="42.6" filter="url(#tex)" opacity="0.5"/>
<polygon points="130.2,328.0 158.3,328.0 153.5,333.3 150.0,340.0 146.2,352.7 142.5,358.7 140.1,366.0 139.5,370.6 130.2,370.6" fill="#1a2222" opacity="0.45" filter="url(#shade)"/>
<polygon points="130.2,328.0 158.3,328.0 153.5,333.3 150.0,340.0 146.2,352.7 142.5,358.7 140.1,366.0 139.5,370.6 130.2,370.6" fill="#080c0d" filter="url(#soft)"/>
<g filter="url(#rag)"><ellipse cx="143.5" cy="343.5" rx="11.1" ry="9.6" transform="rotate(-15 143.5 343.5)" fill="#b4b8f2" opacity="0.45"/><ellipse cx="143.5" cy="343.5" rx="9.5" ry="8.0" transform="rotate(-15 143.5 343.5)" fill="#2424f2"/><ellipse cx="141.3" cy="345.0" rx="6.0" ry="6.5" transform="rotate(0 141.3 345.0)" fill="#28d8f4"/><ellipse cx="142.8" cy="344.5" rx="3.5" ry="5.0" transform="rotate(0 142.8 344.5)" fill="#20f040"/></g>
</g>
<clipPath id="cp63"><rect x="176.2" y="328.0" width="40.6" height="42.6"/></clipPath>
<g clip-path="url(#cp63)">
<rect x="176.2" y="328.0" width="40.6" height="42.6" fill="url(#grR)"/>
<rect x="176.2" y="328.0" width="40.6" height="42.6" filter="url(#tex)" opacity="0.5"/>
<polygon points="204.9,328.0 216.8,328.0 216.8,370.6 215.2,357.5 212.8,352.7 209.2,344.2 206.1,335.7" fill="#1a2222" opacity="0.45" filter="url(#shade)"/>
<g filter="url(#rag)"><ellipse cx="203.0" cy="353.0" rx="12.6" ry="15.1" transform="rotate(0 203.0 353.0)" fill="#b4b8f2" opacity="0.45"/><ellipse cx="203.0" cy="353.0" rx="11.0" ry="13.5" transform="rotate(0 203.0 353.0)" fill="#2424f2"/><ellipse cx="205.5" cy="349.0" rx="9.5" ry="8.5" transform="rotate(-30 205.5 349.0)" fill="#28d8f4"/><ellipse cx="202.8" cy="348.0" rx="7.5" ry="8.0" transform="rotate(-10 202.8 348.0)" fill="#20f040"/></g>
<polygon points="204.9,328.0 216.8,328.0 216.8,370.6 215.2,357.5 212.8,352.7 209.2,344.2 206.1,335.7" fill="#080c0d" filter="url(#soft)"/>
</g>
<defs><linearGradient id="cb" x1="0" y1="0" x2="0" y2="1"><stop offset="0.00" stop-color="#e01818"/><stop offset="0.08" stop-color="#f03820"/><stop offset="0.13" stop-color="#f06020"/><stop offset="0.18" stop-color="#f8a020"/><stop offset="0.22" stop-color="#f8d020"/><stop offset="0.25" stop-color="#e8f000"/><stop offset="0.28" stop-color="#b0f000"/><stop offset="0.33" stop-color="#70e810"/><stop offset="0.38" stop-color="#38e028"/><stop offset="0.50" stop-color="#20e040"/><stop offset="0.55" stop-color="#20e060"/><stop offset="0.60" stop-color="#20e0a0"/><stop offset="0.65" stop-color="#20e0e0"/><stop offset="0.70" stop-color="#20c8f0"/><stop offset="0.75" stop-color="#20a8f0"/><stop offset="0.80" stop-color="#2080f0"/><stop offset="0.85" stop-color="#2048f0"/><stop offset="0.90" stop-color="#2020f0"/><stop offset="0.95" stop-color="#3010e0"/><stop offset="1.00" stop-color="#4010d0"/></linearGradient></defs>
<rect x="221.2" y="104.0" width="6.2" height="202.0" fill="url(#cb)"/>
<line x1="227.4" y1="104.0" x2="227.4" y2="306.0" stroke="#000" stroke-width="0.8"/>
<line x1="227.4" y1="105.8" x2="231.0" y2="105.8" stroke="#000" stroke-width="0.9"/>
<text x="234" y="108.9" font-size="8.6">100 000</text>
<line x1="227.4" y1="110.2" x2="229.0" y2="110.2" stroke="#000" stroke-width="0.7"/>
<line x1="227.4" y1="114.6" x2="229.0" y2="114.6" stroke="#000" stroke-width="0.7"/>
<line x1="227.4" y1="119.1" x2="229.0" y2="119.1" stroke="#000" stroke-width="0.7"/>
<line x1="227.4" y1="123.5" x2="229.0" y2="123.5" stroke="#000" stroke-width="0.7"/>
<line x1="227.4" y1="127.9" x2="229.0" y2="127.9" stroke="#000" stroke-width="0.7"/>
<line x1="227.4" y1="132.3" x2="229.0" y2="132.3" stroke="#000" stroke-width="0.7"/>
<line x1="227.4" y1="136.8" x2="229.0" y2="136.8" stroke="#000" stroke-width="0.7"/>
<line x1="227.4" y1="141.2" x2="229.0" y2="141.2" stroke="#000" stroke-width="0.7"/>
<line x1="227.4" y1="145.6" x2="229.0" y2="145.6" stroke="#000" stroke-width="0.7"/>
<line x1="227.4" y1="150.1" x2="231.0" y2="150.1" stroke="#000" stroke-width="0.9"/>
<text x="234" y="153.2" font-size="8.6">80 000</text>
<line x1="227.4" y1="154.5" x2="229.0" y2="154.5" stroke="#000" stroke-width="0.7"/>
<line x1="227.4" y1="158.9" x2="229.0" y2="158.9" stroke="#000" stroke-width="0.7"/>
<line x1="227.4" y1="163.3" x2="229.0" y2="163.3" stroke="#000" stroke-width="0.7"/>
<line x1="227.4" y1="167.8" x2="229.0" y2="167.8" stroke="#000" stroke-width="0.7"/>
<line x1="227.4" y1="172.2" x2="229.0" y2="172.2" stroke="#000" stroke-width="0.7"/>
<line x1="227.4" y1="176.6" x2="229.0" y2="176.6" stroke="#000" stroke-width="0.7"/>
<line x1="227.4" y1="181.0" x2="229.0" y2="181.0" stroke="#000" stroke-width="0.7"/>
<line x1="227.4" y1="185.4" x2="229.0" y2="185.4" stroke="#000" stroke-width="0.7"/>
<line x1="227.4" y1="189.9" x2="229.0" y2="189.9" stroke="#000" stroke-width="0.7"/>
<line x1="227.4" y1="194.3" x2="231.0" y2="194.3" stroke="#000" stroke-width="0.9"/>
<text x="234" y="197.4" font-size="8.6">60 000</text>
<line x1="227.4" y1="198.7" x2="229.0" y2="198.7" stroke="#000" stroke-width="0.7"/>
<line x1="227.4" y1="203.1" x2="229.0" y2="203.1" stroke="#000" stroke-width="0.7"/>
<line x1="227.4" y1="207.6" x2="229.0" y2="207.6" stroke="#000" stroke-width="0.7"/>
<line x1="227.4" y1="212.0" x2="229.0" y2="212.0" stroke="#000" stroke-width="0.7"/>
<line x1="227.4" y1="216.4" x2="229.0" y2="216.4" stroke="#000" stroke-width="0.7"/>
<line x1="227.4" y1="220.8" x2="229.0" y2="220.8" stroke="#000" stroke-width="0.7"/>
<line x1="227.4" y1="225.3" x2="229.0" y2="225.3" stroke="#000" stroke-width="0.7"/>
<line x1="227.4" y1="229.7" x2="229.0" y2="229.7" stroke="#000" stroke-width="0.7"/>
<line x1="227.4" y1="234.1" x2="229.0" y2="234.1" stroke="#000" stroke-width="0.7"/>
<line x1="227.4" y1="238.6" x2="231.0" y2="238.6" stroke="#000" stroke-width="0.9"/>
<text x="234" y="241.7" font-size="8.6">40 000</text>
<line x1="227.4" y1="243.0" x2="229.0" y2="243.0" stroke="#000" stroke-width="0.7"/>
<line x1="227.4" y1="247.4" x2="229.0" y2="247.4" stroke="#000" stroke-width="0.7"/>
<line x1="227.4" y1="251.8" x2="229.0" y2="251.8" stroke="#000" stroke-width="0.7"/>
<line x1="227.4" y1="256.2" x2="229.0" y2="256.2" stroke="#000" stroke-width="0.7"/>
<line x1="227.4" y1="260.7" x2="229.0" y2="260.7" stroke="#000" stroke-width="0.7"/>
<line x1="227.4" y1="265.1" x2="229.0" y2="265.1" stroke="#000" stroke-width="0.7"/>
<line x1="227.4" y1="269.5" x2="229.0" y2="269.5" stroke="#000" stroke-width="0.7"/>
<line x1="227.4" y1="273.9" x2="229.0" y2="273.9" stroke="#000" stroke-width="0.7"/>
<line x1="227.4" y1="278.4" x2="229.0" y2="278.4" stroke="#000" stroke-width="0.7"/>
<line x1="227.4" y1="282.8" x2="231.0" y2="282.8" stroke="#000" stroke-width="0.9"/>
<text x="234" y="285.9" font-size="8.6">20 000</text>
<line x1="227.4" y1="287.2" x2="229.0" y2="287.2" stroke="#000" stroke-width="0.7"/>
<line x1="227.4" y1="291.6" x2="229.0" y2="291.6" stroke="#000" stroke-width="0.7"/>
<line x1="227.4" y1="296.1" x2="229.0" y2="296.1" stroke="#000" stroke-width="0.7"/>
<line x1="227.4" y1="300.5" x2="229.0" y2="300.5" stroke="#000" stroke-width="0.7"/>
<line x1="227.4" y1="304.9" x2="229.0" y2="304.9" stroke="#000" stroke-width="0.7"/>
<text x="222.6" y="315.6" font-size="8.4" textLength="37.4" lengthAdjust="spacingAndGlyphs">p/s/cm²/sr</text>
<path d="M358.0,147.7 H512.0 V26.7 M358.0,152.7 V26.7 H512.0" fill="none" stroke="#000" stroke-width="1.4"/>
<line x1="352.2" y1="147.7" x2="358.0" y2="147.7" stroke="#000" stroke-width="1.3"/>
<text x="320.5" y="150.4" font-size="7.0" font-weight="bold" style="stroke-width:0.05px" textLength="30.1" lengthAdjust="spacing">0.0e+00</text>
<line x1="352.2" y1="123.5" x2="358.0" y2="123.5" stroke="#000" stroke-width="1.3"/>
<text x="320.5" y="126.2" font-size="7.0" font-weight="bold" style="stroke-width:0.05px" textLength="30.1" lengthAdjust="spacing">5.0e+05</text>
<line x1="352.2" y1="99.3" x2="358.0" y2="99.3" stroke="#000" stroke-width="1.3"/>
<text x="320.5" y="102.0" font-size="7.0" font-weight="bold" style="stroke-width:0.05px" textLength="30.1" lengthAdjust="spacing">1.0e+06</text>
<line x1="352.2" y1="75.1" x2="358.0" y2="75.1" stroke="#000" stroke-width="1.3"/>
<text x="320.5" y="77.8" font-size="7.0" font-weight="bold" style="stroke-width:0.05px" textLength="30.1" lengthAdjust="spacing">1.5e+06</text>
<line x1="352.2" y1="50.9" x2="358.0" y2="50.9" stroke="#000" stroke-width="1.3"/>
<text x="320.5" y="53.6" font-size="7.0" font-weight="bold" style="stroke-width:0.05px" textLength="30.1" lengthAdjust="spacing">2.0e+06</text>
<line x1="352.2" y1="26.7" x2="358.0" y2="26.7" stroke="#000" stroke-width="1.3"/>
<text x="320.5" y="29.4" font-size="7.0" font-weight="bold" style="stroke-width:0.05px" textLength="30.1" lengthAdjust="spacing">2.5e+06</text>
<line x1="380.0" y1="147.7" x2="380.0" y2="152.7" stroke="#000" stroke-width="1.3"/>
<line x1="402.0" y1="147.7" x2="402.0" y2="152.7" stroke="#000" stroke-width="1.3"/>
<line x1="424.0" y1="147.7" x2="424.0" y2="152.7" stroke="#000" stroke-width="1.3"/>
<line x1="446.0" y1="147.7" x2="446.0" y2="152.7" stroke="#000" stroke-width="1.3"/>
<line x1="468.0" y1="147.7" x2="468.0" y2="152.7" stroke="#000" stroke-width="1.3"/>
<line x1="490.0" y1="147.7" x2="490.0" y2="152.7" stroke="#000" stroke-width="1.3"/>
<line x1="512.0" y1="147.7" x2="512.0" y2="152.7" stroke="#000" stroke-width="1.3"/>
<text x="369.0" y="160.2" text-anchor="middle" font-size="7.3" font-weight="bold">-6</text>
<text x="391.0" y="160.2" text-anchor="middle" font-size="7.3" font-weight="bold">0</text>
<text x="413.0" y="160.2" text-anchor="middle" font-size="7.3" font-weight="bold">1</text>
<text x="435.0" y="160.2" text-anchor="middle" font-size="7.3" font-weight="bold">2</text>
<text x="457.0" y="160.2" text-anchor="middle" font-size="7.3" font-weight="bold">3</text>
<text x="479.0" y="160.2" text-anchor="middle" font-size="7.3" font-weight="bold">4</text>
<text x="501.0" y="160.2" text-anchor="middle" font-size="7.3" font-weight="bold">5</text>
<text x="435" y="177.0" text-anchor="middle" font-size="9.6">Time after Challenge (d)</text>
<text transform="translate(302.6,87.6) rotate(-90)" text-anchor="middle" font-size="9.8">Luciferase Activity</text>
<text transform="translate(313.5,88.6) rotate(-90)" text-anchor="middle" font-size="9.6">(photons/s)</text>
<text x="286.2" y="12.4" font-size="17.5" font-weight="bold">B</text>
<path d="M369.20,143.59 C372.87,142.42 383.87,143.38 391.20,136.57 C398.53,129.75 405.87,114.55 413.20,102.69 C420.53,90.83 427.87,66.95 435.20,65.42 C442.53,63.89 449.87,83.45 457.20,93.49 C464.53,103.53 471.87,119.22 479.20,125.68 C486.53,132.13 497.53,131.12 501.20,132.21" fill="none" stroke="#000" stroke-width="1.6"/>
<path d="M413.2,98.6 V106.8 M410.3,98.6 h5.8 M410.3,106.8 h5.8" stroke="#000" stroke-width="1.2" fill="none"/>
<path d="M435.2,54.3 V76.6 M432.3,54.3 h5.8 M432.3,76.6 h5.8" stroke="#000" stroke-width="1.2" fill="none"/>
<path d="M457.2,87.0 V100.0 M454.3,87.0 h5.8 M454.3,100.0 h5.8" stroke="#000" stroke-width="1.2" fill="none"/>
<circle cx="369.2" cy="143.6" r="2.6" fill="#000"/>
<circle cx="391.2" cy="136.6" r="2.6" fill="#000"/>
<circle cx="413.2" cy="102.7" r="2.6" fill="#000"/>
<circle cx="435.2" cy="65.4" r="2.6" fill="#000"/>
<circle cx="457.2" cy="93.5" r="2.6" fill="#000"/>
<circle cx="479.2" cy="125.7" r="2.6" fill="#000"/>
<circle cx="501.2" cy="132.2" r="2.6" fill="#000"/>
<path d="M369.20,143.59 C372.87,142.50 383.87,139.92 391.20,137.05 C398.53,134.19 405.87,130.68 413.20,126.40 C420.53,122.13 427.87,111.52 435.20,111.40 C442.53,111.28 449.87,121.40 457.20,125.68 C464.53,129.95 471.87,134.83 479.20,137.05 C486.53,139.27 497.53,138.67 501.20,138.99" fill="none" stroke="#000" stroke-width="1.6"/>
<path d="M435.2,106.8 V116.0 M432.3,106.8 h5.8 M432.3,116.0 h5.8" stroke="#000" stroke-width="1.2" fill="none"/>
<path d="M457.2,122.5 V128.8 M454.3,122.5 h5.8 M454.3,128.8 h5.8" stroke="#000" stroke-width="1.2" fill="none"/>
<rect x="366.6" y="141.0" width="5.1" height="5.1" fill="#000"/>
<rect x="388.6" y="134.5" width="5.1" height="5.1" fill="#000"/>
<rect x="410.6" y="123.9" width="5.1" height="5.1" fill="#000"/>
<rect x="432.6" y="108.8" width="5.1" height="5.1" fill="#000"/>
<rect x="454.6" y="123.1" width="5.1" height="5.1" fill="#000"/>
<rect x="476.6" y="134.5" width="5.1" height="5.1" fill="#000"/>
<rect x="498.6" y="136.4" width="5.1" height="5.1" fill="#000"/>
<path d="M369.20,143.59 C372.87,143.06 383.87,141.21 391.20,140.44 C398.53,139.67 405.87,139.39 413.20,138.99 C420.53,138.58 427.87,138.18 435.20,138.02 C442.53,137.86 449.87,137.86 457.20,138.02 C464.53,138.18 471.87,138.50 479.20,138.99 C486.53,139.47 497.53,140.60 501.20,140.92" fill="none" stroke="#000" stroke-width="1.4" stroke-dasharray="2.6,1.6"/>
<rect x="366.9" y="141.3" width="4.5" height="4.5" fill="#fff" stroke="#000" stroke-width="1.2"/>
<rect x="388.9" y="138.2" width="4.5" height="4.5" fill="#fff" stroke="#000" stroke-width="1.2"/>
<rect x="410.9" y="136.7" width="4.5" height="4.5" fill="#fff" stroke="#000" stroke-width="1.2"/>
<rect x="432.9" y="135.8" width="4.5" height="4.5" fill="#fff" stroke="#000" stroke-width="1.2"/>
<rect x="454.9" y="135.8" width="4.5" height="4.5" fill="#fff" stroke="#000" stroke-width="1.2"/>
<rect x="476.9" y="136.7" width="4.5" height="4.5" fill="#fff" stroke="#000" stroke-width="1.2"/>
<rect x="498.9" y="138.7" width="4.5" height="4.5" fill="#fff" stroke="#000" stroke-width="1.2"/>
<path d="M369.20,143.59 C372.87,142.66 383.87,139.55 391.20,138.02 C398.53,136.49 405.87,135.12 413.20,134.39 C420.53,133.66 427.87,133.78 435.20,133.66 C442.53,133.54 449.87,132.94 457.20,133.66 C464.53,134.39 471.87,137.29 479.20,138.02 C486.53,138.75 497.53,138.02 501.20,138.02" fill="none" stroke="#000" stroke-width="1.4" stroke-dasharray="2.6,1.6"/>
<circle cx="369.2" cy="143.6" r="2.4" fill="#fff" stroke="#000" stroke-width="1.2"/>
<circle cx="391.2" cy="138.0" r="2.4" fill="#fff" stroke="#000" stroke-width="1.2"/>
<circle cx="413.2" cy="134.4" r="2.4" fill="#fff" stroke="#000" stroke-width="1.2"/>
<circle cx="435.2" cy="133.7" r="2.4" fill="#fff" stroke="#000" stroke-width="1.2"/>
<circle cx="457.2" cy="133.7" r="2.4" fill="#fff" stroke="#000" stroke-width="1.2"/>
<circle cx="479.2" cy="138.0" r="2.4" fill="#fff" stroke="#000" stroke-width="1.2"/>
<circle cx="501.2" cy="138.0" r="2.4" fill="#fff" stroke="#000" stroke-width="1.2"/>
<rect x="466.0" y="20.7" width="53" height="38.3" fill="#fff" stroke="#000" stroke-width="1.1"/>
<line x1="471.5" y1="27.5" x2="486.5" y2="27.5" stroke="#000" stroke-width="1.4"/>
<circle cx="479.0" cy="27.5" r="2.6" fill="#000"/>
<text x="490.8" y="29.7" font-size="6.2" font-weight="bold" style="stroke-width:0.1px" textLength="23.6" lengthAdjust="spacingAndGlyphs">R Saline</text>
<line x1="471.5" y1="36.0" x2="486.5" y2="36.0" stroke="#000" stroke-width="1.4"/>
<rect x="476.4" y="33.5" width="5.1" height="5.1" fill="#000"/>
<text x="490.8" y="38.2" font-size="6.2" font-weight="bold" style="stroke-width:0.1px" textLength="18.5" lengthAdjust="spacingAndGlyphs">R DEX</text>
<path d="M471.5,44.5 h2 M481.2,44.5 h3" stroke="#000" stroke-width="1.3"/>
<rect x="476.8" y="42.2" width="4.5" height="4.5" fill="#fff" stroke="#000" stroke-width="1.2"/>
<text x="490.8" y="46.7" font-size="6.2" font-weight="bold" style="stroke-width:0.1px" textLength="23.6" lengthAdjust="spacingAndGlyphs">L Saline</text>
<path d="M471.5,53.0 h2 M481.2,53.0 h3" stroke="#000" stroke-width="1.3"/>
<circle cx="479.0" cy="53.0" r="2.4" fill="#fff" stroke="#000" stroke-width="1.2"/>
<text x="490.8" y="55.2" font-size="6.2" font-weight="bold" style="stroke-width:0.1px" textLength="18.5" lengthAdjust="spacingAndGlyphs">L DEX</text>
<path d="M358.0,326.7 H512.0 V205.9 M358.0,331.7 V205.9 H512.0" fill="none" stroke="#000" stroke-width="1.4"/>
<line x1="352.2" y1="326.7" x2="358.0" y2="326.7" stroke="#000" stroke-width="1.3"/>
<text x="344.8" y="329.1" font-size="6.8" font-weight="bold" style="stroke-width:0.05px" textLength="4.4" lengthAdjust="spacingAndGlyphs">5</text>
<line x1="352.2" y1="314.6" x2="358.0" y2="314.6" stroke="#000" stroke-width="1.3"/>
<text x="344.8" y="317.0" font-size="6.8" font-weight="bold" style="stroke-width:0.05px" textLength="4.4" lengthAdjust="spacingAndGlyphs">7</text>
<line x1="352.2" y1="302.5" x2="358.0" y2="302.5" stroke="#000" stroke-width="1.3"/>
<text x="344.8" y="304.9" font-size="6.8" font-weight="bold" style="stroke-width:0.05px" textLength="4.4" lengthAdjust="spacingAndGlyphs">9</text>
<line x1="352.2" y1="290.5" x2="358.0" y2="290.5" stroke="#000" stroke-width="1.3"/>
<text x="340.2" y="292.9" font-size="6.8" font-weight="bold" style="stroke-width:0.05px" textLength="9.0" lengthAdjust="spacingAndGlyphs">11</text>
<line x1="352.2" y1="278.4" x2="358.0" y2="278.4" stroke="#000" stroke-width="1.3"/>
<text x="340.2" y="280.8" font-size="6.8" font-weight="bold" style="stroke-width:0.05px" textLength="9.0" lengthAdjust="spacingAndGlyphs">13</text>
<line x1="352.2" y1="266.3" x2="358.0" y2="266.3" stroke="#000" stroke-width="1.3"/>
<text x="340.2" y="268.7" font-size="6.8" font-weight="bold" style="stroke-width:0.05px" textLength="9.0" lengthAdjust="spacingAndGlyphs">15</text>
<line x1="352.2" y1="254.2" x2="358.0" y2="254.2" stroke="#000" stroke-width="1.3"/>
<text x="340.2" y="256.6" font-size="6.8" font-weight="bold" style="stroke-width:0.05px" textLength="9.0" lengthAdjust="spacingAndGlyphs">17</text>
<line x1="352.2" y1="242.1" x2="358.0" y2="242.1" stroke="#000" stroke-width="1.3"/>
<text x="340.2" y="244.5" font-size="6.8" font-weight="bold" style="stroke-width:0.05px" textLength="9.0" lengthAdjust="spacingAndGlyphs">19</text>
<line x1="352.2" y1="230.1" x2="358.0" y2="230.1" stroke="#000" stroke-width="1.3"/>
<text x="340.2" y="232.5" font-size="6.8" font-weight="bold" style="stroke-width:0.05px" textLength="9.0" lengthAdjust="spacingAndGlyphs">21</text>
<line x1="352.2" y1="218.0" x2="358.0" y2="218.0" stroke="#000" stroke-width="1.3"/>
<text x="340.2" y="220.4" font-size="6.8" font-weight="bold" style="stroke-width:0.05px" textLength="9.0" lengthAdjust="spacingAndGlyphs">23</text>
<line x1="352.2" y1="205.9" x2="358.0" y2="205.9" stroke="#000" stroke-width="1.3"/>
<text x="340.2" y="208.3" font-size="6.8" font-weight="bold" style="stroke-width:0.05px" textLength="9.0" lengthAdjust="spacingAndGlyphs">25</text>
<line x1="380.0" y1="326.7" x2="380.0" y2="331.7" stroke="#000" stroke-width="1.3"/>
<line x1="402.0" y1="326.7" x2="402.0" y2="331.7" stroke="#000" stroke-width="1.3"/>
<line x1="424.0" y1="326.7" x2="424.0" y2="331.7" stroke="#000" stroke-width="1.3"/>
<line x1="446.0" y1="326.7" x2="446.0" y2="331.7" stroke="#000" stroke-width="1.3"/>
<line x1="468.0" y1="326.7" x2="468.0" y2="331.7" stroke="#000" stroke-width="1.3"/>
<line x1="490.0" y1="326.7" x2="490.0" y2="331.7" stroke="#000" stroke-width="1.3"/>
<line x1="512.0" y1="326.7" x2="512.0" y2="331.7" stroke="#000" stroke-width="1.3"/>
<text x="369.0" y="339.2" text-anchor="middle" font-size="7.3" font-weight="bold">-6</text>
<text x="391.0" y="339.2" text-anchor="middle" font-size="7.3" font-weight="bold">0</text>
<text x="413.0" y="339.2" text-anchor="middle" font-size="7.3" font-weight="bold">1</text>
<text x="435.0" y="339.2" text-anchor="middle" font-size="7.3" font-weight="bold">2</text>
<text x="457.0" y="339.2" text-anchor="middle" font-size="7.3" font-weight="bold">3</text>
<text x="479.0" y="339.2" text-anchor="middle" font-size="7.3" font-weight="bold">4</text>
<text x="501.0" y="339.2" text-anchor="middle" font-size="7.3" font-weight="bold">5</text>
<text x="435" y="355.8" text-anchor="middle" font-size="9.6">Time after Challenge (d)</text>
<text transform="translate(318.8,263.0) rotate(-90)" text-anchor="middle" font-size="9.8">Ear Thickness</text>
<text transform="translate(330.6,264.1) rotate(-90)" text-anchor="middle" font-size="9.6">(x0.001 inch)</text>
<text x="286.2" y="206.8" font-size="17.5" font-weight="bold">C</text>
<path d="M369.20,305.26 C372.87,304.08 383.87,312.33 391.20,298.19 C398.53,284.05 405.87,230.90 413.20,220.40 C420.53,209.90 427.87,229.51 435.20,235.19 C442.53,240.88 449.87,249.49 457.20,254.52 C464.53,259.56 471.87,262.07 479.20,265.39 C486.53,268.72 497.53,272.94 501.20,274.45" fill="none" stroke="#000" stroke-width="1.6"/>
<path d="M369.2,303.4 V307.1 M366.3,303.4 h5.8 M366.3,307.1 h5.8" stroke="#000" stroke-width="1.2" fill="none"/>
<path d="M413.2,218.0 V222.8 M410.3,218.0 h5.8 M410.3,222.8 h5.8" stroke="#000" stroke-width="1.2" fill="none"/>
<path d="M435.2,229.5 V240.9 M432.3,229.5 h5.8 M432.3,240.9 h5.8" stroke="#000" stroke-width="1.2" fill="none"/>
<path d="M457.2,251.2 V257.8 M454.3,251.2 h5.8 M454.3,257.8 h5.8" stroke="#000" stroke-width="1.2" fill="none"/>
<path d="M479.2,262.1 V268.7 M476.3,262.1 h5.8 M476.3,268.7 h5.8" stroke="#000" stroke-width="1.2" fill="none"/>
<path d="M501.2,269.9 V279.0 M498.3,269.9 h5.8 M498.3,279.0 h5.8" stroke="#000" stroke-width="1.2" fill="none"/>
<circle cx="369.2" cy="305.3" r="2.6" fill="#000"/>
<circle cx="391.2" cy="298.2" r="2.6" fill="#000"/>
<circle cx="413.2" cy="220.4" r="2.6" fill="#000"/>
<circle cx="435.2" cy="235.2" r="2.6" fill="#000"/>
<circle cx="457.2" cy="254.5" r="2.6" fill="#000"/>
<circle cx="479.2" cy="265.4" r="2.6" fill="#000"/>
<circle cx="501.2" cy="274.5" r="2.6" fill="#000"/>
<path d="M369.20,305.86 C372.87,304.58 383.87,305.09 391.20,298.19 C398.53,291.30 405.87,268.85 413.20,264.49 C420.53,260.13 427.87,269.32 435.20,272.04 C442.53,274.76 449.87,278.28 457.20,280.80 C464.53,283.31 471.87,284.82 479.20,287.14 C486.53,289.45 497.53,293.43 501.20,294.69" fill="none" stroke="#000" stroke-width="1.6"/>
<path d="M413.2,256.0 V272.9 M410.3,256.0 h5.8 M410.3,272.9 h5.8" stroke="#000" stroke-width="1.2" fill="none"/>
<path d="M435.2,267.8 V276.3 M432.3,267.8 h5.8 M432.3,276.3 h5.8" stroke="#000" stroke-width="1.2" fill="none"/>
<path d="M457.2,278.4 V283.2 M454.3,278.4 h5.8 M454.3,283.2 h5.8" stroke="#000" stroke-width="1.2" fill="none"/>
<path d="M479.2,285.3 V288.9 M476.3,285.3 h5.8 M476.3,288.9 h5.8" stroke="#000" stroke-width="1.2" fill="none"/>
<path d="M501.2,293.5 V295.9 M498.3,293.5 h5.8 M498.3,295.9 h5.8" stroke="#000" stroke-width="1.2" fill="none"/>
<rect x="366.6" y="303.3" width="5.1" height="5.1" fill="#000"/>
<rect x="388.6" y="295.6" width="5.1" height="5.1" fill="#000"/>
<rect x="410.6" y="261.9" width="5.1" height="5.1" fill="#000"/>
<rect x="432.6" y="269.5" width="5.1" height="5.1" fill="#000"/>
<rect x="454.6" y="278.2" width="5.1" height="5.1" fill="#000"/>
<rect x="476.6" y="284.6" width="5.1" height="5.1" fill="#000"/>
<rect x="498.6" y="292.1" width="5.1" height="5.1" fill="#000"/>
<path d="M369.20,304.05 C372.87,303.07 383.87,299.80 391.20,298.19 C398.53,296.58 405.87,295.22 413.20,294.39 C420.53,293.55 427.87,293.18 435.20,293.18 C442.53,293.18 449.87,294.18 457.20,294.39 C464.53,294.59 471.87,292.93 479.20,294.39 C486.53,295.85 497.53,301.68 501.20,303.14" fill="none" stroke="#000" stroke-width="1.4" stroke-dasharray="2.6,1.6"/>
<circle cx="369.2" cy="304.1" r="2.4" fill="#fff" stroke="#000" stroke-width="1.2"/>
<circle cx="391.2" cy="298.2" r="2.4" fill="#fff" stroke="#000" stroke-width="1.2"/>
<circle cx="413.2" cy="294.4" r="2.4" fill="#fff" stroke="#000" stroke-width="1.2"/>
<circle cx="435.2" cy="293.2" r="2.4" fill="#fff" stroke="#000" stroke-width="1.2"/>
<circle cx="457.2" cy="294.4" r="2.4" fill="#fff" stroke="#000" stroke-width="1.2"/>
<circle cx="479.2" cy="294.4" r="2.4" fill="#fff" stroke="#000" stroke-width="1.2"/>
<circle cx="501.2" cy="303.1" r="2.4" fill="#fff" stroke="#000" stroke-width="1.2"/>
<path d="M369.20,304.05 C372.87,303.07 383.87,299.45 391.20,298.19 C398.53,296.93 405.87,296.53 413.20,296.50 C420.53,296.47 427.87,297.66 435.20,298.01 C442.53,298.36 449.87,298.16 457.20,298.61 C464.53,299.07 471.87,299.92 479.20,300.73 C486.53,301.53 497.53,302.99 501.20,303.45" fill="none" stroke="#000" stroke-width="1.4" stroke-dasharray="2.6,1.6"/>
<rect x="366.9" y="301.8" width="4.5" height="4.5" fill="#fff" stroke="#000" stroke-width="1.2"/>
<rect x="388.9" y="295.9" width="4.5" height="4.5" fill="#fff" stroke="#000" stroke-width="1.2"/>
<rect x="410.9" y="294.2" width="4.5" height="4.5" fill="#fff" stroke="#000" stroke-width="1.2"/>
<rect x="432.9" y="295.8" width="4.5" height="4.5" fill="#fff" stroke="#000" stroke-width="1.2"/>
<rect x="454.9" y="296.4" width="4.5" height="4.5" fill="#fff" stroke="#000" stroke-width="1.2"/>
<rect x="476.9" y="298.5" width="4.5" height="4.5" fill="#fff" stroke="#000" stroke-width="1.2"/>
<rect x="498.9" y="301.2" width="4.5" height="4.5" fill="#fff" stroke="#000" stroke-width="1.2"/>
<rect x="466.0" y="199.5" width="53" height="38.3" fill="#fff" stroke="#000" stroke-width="1.1"/>
<line x1="471.5" y1="206.3" x2="486.5" y2="206.3" stroke="#000" stroke-width="1.4"/>
<circle cx="479.0" cy="206.3" r="2.6" fill="#000"/>
<text x="490.8" y="208.5" font-size="6.2" font-weight="bold" style="stroke-width:0.1px" textLength="23.6" lengthAdjust="spacingAndGlyphs">R Saline</text>
<line x1="471.5" y1="214.8" x2="486.5" y2="214.8" stroke="#000" stroke-width="1.4"/>
<rect x="476.4" y="212.2" width="5.1" height="5.1" fill="#000"/>
<text x="490.8" y="217.0" font-size="6.2" font-weight="bold" style="stroke-width:0.1px" textLength="18.5" lengthAdjust="spacingAndGlyphs">R DEX</text>
<path d="M471.5,223.3 h2 M481.2,223.3 h3" stroke="#000" stroke-width="1.3"/>
<rect x="476.8" y="221.1" width="4.5" height="4.5" fill="#fff" stroke="#000" stroke-width="1.2"/>
<text x="490.8" y="225.5" font-size="6.2" font-weight="bold" style="stroke-width:0.1px" textLength="23.6" lengthAdjust="spacingAndGlyphs">L Saline</text>
<path d="M471.5,231.8 h2 M481.2,231.8 h3" stroke="#000" stroke-width="1.3"/>
<circle cx="479.0" cy="231.8" r="2.4" fill="#fff" stroke="#000" stroke-width="1.2"/>
<text x="490.8" y="234.0" font-size="6.2" font-weight="bold" style="stroke-width:0.1px" textLength="18.5" lengthAdjust="spacingAndGlyphs">L DEX</text>
</svg>
</body></html>
